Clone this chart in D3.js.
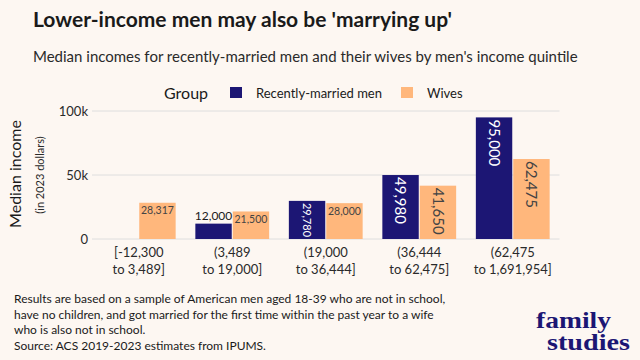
<!DOCTYPE html>
<html>
<head>
<meta charset="utf-8">
<script src="https://cdn.jsdelivr.net/npm/d3@7/dist/d3.min.js"></script>
<style>
  html, body { margin: 0; padding: 0; background: #fdf7f2; }
  svg { display: block; font-family: Lato, "Open Sans", sans-serif; }
</style>
</head>
<body>
<svg id="chart" width="640" height="360"></svg>
<script>
// ---- data ----
const categories = ["[-12,300\nto 3,489]", "(3,489\nto 19,000]", "(19,000\nto 36,444]", "(36,444\nto 62,475]", "(62,475\nto 1,691,954]"];
const seriesNames = ["Recently-married men", "Wives"];
const menValues = [0, 12000, 29780, 49980, 95000];
const wivesValues = [28317, 21500, 28000, 41650, 62475];
const yTicks = [0, 50000, 100000];
const yTickLabels = ["0", "50k", "100k"];
const footerLines = [
  "Results are based on a sample of American men aged 18-39 who are not in school,",
  "have no children, and got married for the first time within the past year to a wife",
  "who is also not in school.",
  "Source: ACS 2019-2023 estimates from IPUMS."
];

const colors = { "Recently-married men": "#1c1674", "Wives": "#ffb77c" };
const bg = "#fdf7f2";

const svg = d3.select("#chart");
svg.append("rect").attr("width", 640).attr("height", 360).attr("fill", bg);

// titles
svg.append("text").attr("x", 33).attr("y", 27).attr("font-size", 21).attr("font-weight", 700)
  .attr("fill", "#1a1a1a").text("Lower-income men may also be 'marrying up'");
svg.append("text").attr("x", 33).attr("y", 62).attr("font-size", 15).attr("fill", "#2a2a2a")
  .text("Median incomes for recently-married men and their wives by men's income quintile");

// scales
const plotLeft = 92, plotRight = 559.5, y0 = 239, yTop = 111;
const x0 = d3.scaleBand().domain(categories).range([plotLeft, plotRight]).paddingInner(0.2).paddingOuter(0.1);
const x1 = d3.scaleBand().domain(seriesNames).range([0, x0.bandwidth()]).padding(0);
const y = d3.scaleLinear().domain([0, 100000]).range([y0, yTop]);

// gridlines
svg.append("g").selectAll("line").data(yTicks).join("line")
  .attr("x1", plotLeft).attr("x2", plotRight)
  .attr("y1", d => y(d)).attr("y2", d => y(d))
  .attr("stroke", "#dedede").attr("stroke-width", 1);

// y axis labels
const yAxis = d3.axisLeft(y).tickValues(yTicks).tickFormat((d, i) => yTickLabels[i]).tickSize(0).tickPadding(4);
const yg = svg.append("g").attr("transform", `translate(${plotLeft},0)`).call(yAxis);
yg.select(".domain").remove();
yg.selectAll("text").attr("font-size", 13).attr("fill", "#2a2a2a").attr("font-family", "Lato, sans-serif");

// y axis titles
svg.append("text").attr("transform", "translate(21,174) rotate(-90)").attr("text-anchor", "middle")
  .attr("font-size", 16).attr("fill", "#1a1a1a").text("Median income");
svg.append("text").attr("transform", "translate(44,175) rotate(-90)").attr("text-anchor", "middle")
  .attr("font-size", 11).attr("fill", "#2a2a2a").text("(in 2023 dollars)");

// x axis labels
const xAxis = d3.axisBottom(x0).tickSize(0).tickPadding(0).tickFormat("");
const xg = svg.append("g").attr("transform", `translate(0,${y0})`).call(xAxis);
xg.select(".domain").remove();
xg.selectAll(".tick").each(function(d) {
  const t = d3.select(this).append("text").attr("text-anchor", "middle").attr("font-size", 13)
    .attr("fill", "#2a2a2a").attr("font-family", "Lato, sans-serif");
  d.split("\n").forEach((line, i) => {
    t.append("tspan").attr("x", 0).attr("y", 18 + i * 17).text(line);
  });
});

// bars
const rows = categories.map((c, i) => ({ cat: c, vals: [
  { s: seriesNames[0], v: menValues[i] },
  { s: seriesNames[1], v: wivesValues[i] }
]}));
const fmt = d3.format(",");
const groups = svg.append("g").selectAll("g").data(rows).join("g")
  .attr("transform", d => `translate(${x0(d.cat)},0)`);
groups.selectAll("rect").data(d => d.vals.filter(v => v.v > 0)).join("rect")
  .attr("x", d => x1(d.s) + 0.5).attr("width", x1.bandwidth() - 1)
  .attr("y", d => y(d.v)).attr("height", d => y0 - y(d.v))
  .attr("fill", d => colors[d.s]);

// bar labels (fit inside, choose orientation like auto text)
const baseSize = 15;
groups.each(function(row) {
  const g = d3.select(this);
  row.vals.filter(v => v.v > 0).forEach(v => {
    const W = x1.bandwidth() - 1, H = y0 - y(v.v);
    const cx = x1(v.s) + x1.bandwidth() / 2;
    const t = g.append("text").attr("font-size", baseSize).text(fmt(v.v));
    const w0 = t.node().getComputedTextLength();
    const h0 = baseSize * 0.85;
    const sH = Math.min(1, (W - 2) / w0, (H - 2) / h0);
    const sR = Math.min(1, (H - 2) / w0, (W - 2) / h0);
    const inColor = v.s === seriesNames[0] ? "#ffffff" : "#444444";
    if (H < 2 * baseSize * sH) {
      // outside, above bar
      const fs = baseSize * Math.min(1, (W + 1) / w0);
      t.attr("font-size", fs).attr("text-anchor", "middle").attr("fill", "#1a1a1a")
        .attr("x", cx).attr("y", y(v.v) - 4);
    } else if (sH >= sR) {
      const fs = baseSize * Math.min(1, (W - 3.5) / w0);
      t.attr("font-size", fs).attr("text-anchor", "middle").attr("fill", inColor)
        .attr("x", cx).attr("y", y(v.v) + 3 + fs * 0.8);
    } else {
      const fs = baseSize * Math.min(1, (H - 4) / w0);
      t.attr("font-size", fs).attr("text-anchor", "start").attr("fill", inColor)
        .attr("transform", `translate(${cx - fs * 0.36},${y(v.v) + 2}) rotate(90)`);
    }
  });
});

// legend
const lg = svg.append("g");
lg.append("text").attr("x", 164).attr("y", 99).attr("font-size", 16).attr("fill", "#1a1a1a").text("Group");
const legendX = [230, 401];
seriesNames.forEach((s, i) => {
  lg.append("rect").attr("x", legendX[i]).attr("y", 87).attr("width", 12).attr("height", 11).attr("fill", colors[s]);
  lg.append("text").attr("x", legendX[i] + 26).attr("y", 98).attr("font-size", 13).attr("fill", "#1a1a1a").text(s);
});

// footer
const ft = svg.append("text").attr("font-size", 12).attr("fill", "#1a1a1a");
footerLines.forEach((l, i) => {
  ft.append("tspan").attr("x", 14).attr("y", 303 + i * 15.5).text(l);
});

// logo
const logo = svg.append("g").attr("font-family", "'Liberation Serif', 'DejaVu Serif', serif")
  .attr("font-weight", 700).attr("fill", "#1c1674").attr("font-size", 24);
logo.append("text").attr("x", 536).attr("y", 328).text("family")
  .attr("textLength", 75).attr("lengthAdjust", "spacingAndGlyphs");
logo.append("text").attr("x", 547).attr("y", 350).text("studies")
  .attr("textLength", 83).attr("lengthAdjust", "spacingAndGlyphs");
</script>
</body>
</html>
